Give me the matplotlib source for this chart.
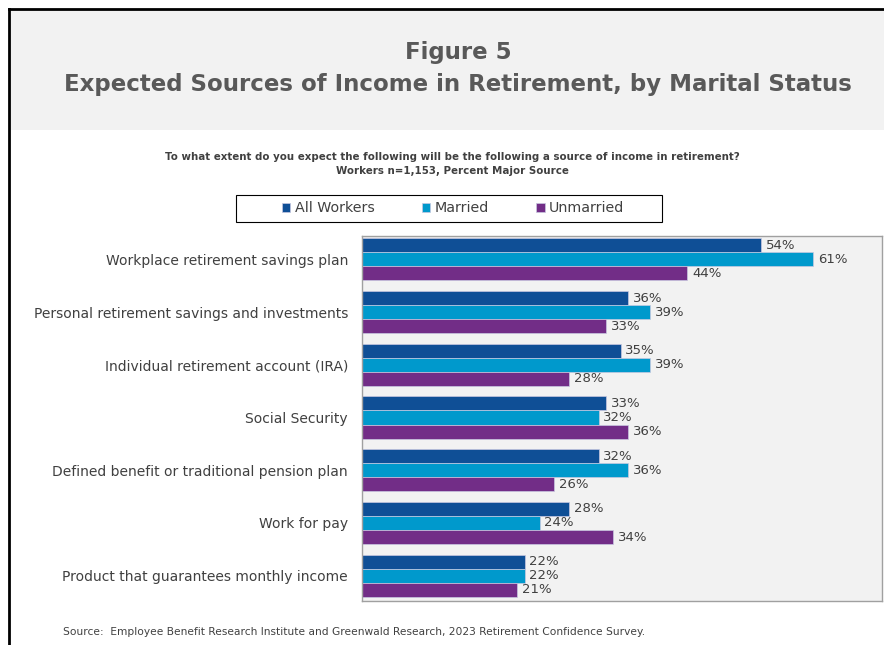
import numpy as np
import matplotlib.pyplot as plt
from matplotlib.patches import Rectangle

# data
categories = [
    "Workplace retirement savings plan",
    "Personal retirement savings and investments",
    "Individual retirement account (IRA)",
    "Social Security",
    "Defined benefit or traditional pension plan",
    "Work for pay",
    "Product that guarantees monthly income",
]
all_workers = [54, 36, 35, 33, 32, 28, 22]
married = [61, 39, 39, 32, 36, 24, 22]
unmarried = [44, 33, 28, 36, 26, 34, 21]

series_names = ["All Workers", "Married", "Unmarried"]
colors = ["#0f4f96", "#0099cc", "#722d87"]
text_col = "#404040"

plt.rcParams['font.family'] = ['DejaVu Sans']

W, H = 884, 645
fig = plt.figure(figsize=(W / 100, H / 100), dpi=100)

# header band and black frame
fig.patches.append(Rectangle((10 / W, 1 - 130 / H), 1, 120 / H, transform=fig.transFigure,
                             facecolor="#f2f2f2", edgecolor="none", zorder=0))
fig.add_artist(plt.Line2D([9 / W, 9 / W], [0, 1 - 9 / H], color="black", lw=2))
fig.add_artist(plt.Line2D([9 / W, 1], [1 - 9 / H, 1 - 9 / H], color="black", lw=2))

fig.text(458 / W, 1 - 52 / H, "Figure 5", ha="center", va="center",
         fontsize=16.5, fontweight="bold", color="#595959")
fig.text(458 / W, 1 - 84 / H, "Expected Sources of Income in Retirement, by Marital Status",
         ha="center", va="center", fontsize=16.5, fontweight="bold", color="#595959")

fig.text(452 / W, 1 - 157 / H,
         "To what extent do you expect the following will be the following a source of income in retirement?",
         ha="center", va="center", fontsize=7.4, fontweight="bold", color=text_col)
fig.text(452 / W, 1 - 171 / H, "Workers n=1,153, Percent Major Source",
         ha="center", va="center", fontsize=7.4, fontweight="bold", color=text_col)

fig.text(63 / W, 1 - 632 / H,
         "Source:  Employee Benefit Research Institute and Greenwald Research, 2023 Retirement Confidence Survey.",
         ha="left", va="center", fontsize=7.7, color=text_col)

# plot area
ax = fig.add_axes([362 / W, 1 - 601 / H, (882 - 362) / W, (601 - 236) / H])
ax.set_facecolor("#f2f2f2")

n = len(categories)
y = np.arange(n)
h = 0.267
handles = []
for k, (vals, col, name) in enumerate(zip([all_workers, married, unmarried], colors, series_names)):
    pos = y + (k - 1) * h
    b = ax.barh(pos, vals, height=h, color=col, edgecolor="#c8c8e0", linewidth=0.5, label=name)
    handles.append(b)
    for p, v in zip(pos, vals):
        ax.text(v + 0.6, p, f"{v}%", va="center", ha="left", fontsize=9.5, color=text_col)

ax.set_xlim(0, 70.3)
ax.set_ylim(6.48, -0.443)
ax.set_xticks([])
ax.set_yticks(y)
ax.set_yticklabels(categories, fontsize=10, color=text_col)
ax.tick_params(axis="y", length=0, pad=10)
for s in ax.spines.values():
    s.set_color("#a0a0a0")
    s.set_linewidth(1)

# legend with its own frame
fig.patches.append(Rectangle((236 / W, 1 - 222 / H), (662 - 236) / W, 27 / H,
                             transform=fig.transFigure, facecolor="white",
                             edgecolor="black", linewidth=0.8, zorder=1))
leg = fig.legend(handles=handles, labels=series_names, loc="center",
                 bbox_to_anchor=(453 / W, 1 - 208.5 / H), ncol=3, frameon=False,
                 fontsize=10.3, handlelength=0.6, handleheight=0.6,
                 handletextpad=0.3, columnspacing=3.3, borderpad=0.3,
                 borderaxespad=0)
for t in leg.get_texts():
    t.set_color(text_col)

fig.savefig("out.png", dpi=100)
